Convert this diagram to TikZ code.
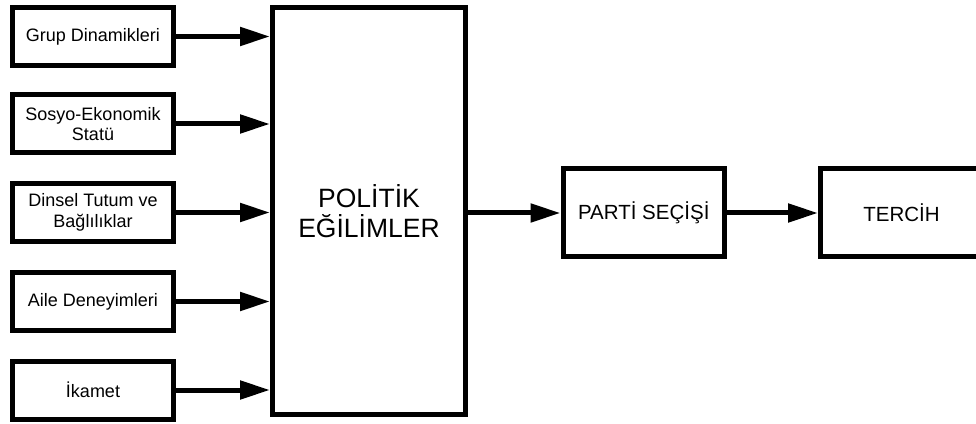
\documentclass[tikz,border=0pt]{standalone}
\usepackage{fontspec}
\setmainfont{Liberation Sans}
\usetikzlibrary{arrows.meta}
\begin{document}
\begin{tikzpicture}[x=1pt,y=1pt,
  box/.style={draw=black, line width=5pt, inner sep=0pt, align=center, fill=white},
  smallbox/.style={box, minimum width=161pt, minimum height=58pt, font=\fontsize{18}{20.5}\selectfont},
  midbox/.style={box, minimum width=161.5pt, minimum height=88pt, font=\fontsize{20.5}{24}\selectfont},
  conn/.style={line width=5pt, -{Triangle[length=30pt,width=18pt]}}]
\useasboundingbox (0,0) rectangle (976,423);
\clip (0,0) rectangle (976,423);
\node[smallbox] (g1) at (93,386.5) {Grup Dinamikleri};
\node[smallbox] (g2) at (93,299) {Sosyo-Ekonomik\\Statü};
\node[smallbox] (g3) at (93,210.5) {Dinsel Tutum ve\\Bağlılıklar};
\node[smallbox] (g4) at (93,121.5) {Aile Deneyimleri};
\node[smallbox] (g5) at (93,33) {İkamet};
\node[box, minimum width=193pt, minimum height=407pt, font=\fontsize{26.5}{30}\selectfont] (pol) at (369,212) {POLİTİK\\EĞİLİMLER};
\node[midbox] (parti) at (643.75,210) {PARTİ SEÇİŞİ};
\node[midbox, minimum width=162pt] (tercih) at (901.5,210) {TERCİH};
\foreach \n in {g1,g2,g3,g4,g5}
  \draw[conn] (\n.east) -- (\n.east -| pol.west);
\draw[conn] (pol.east |- parti.west) -- (parti.west);
\draw[conn] (parti.east) -- (tercih.west);
\end{tikzpicture}
\end{document}
